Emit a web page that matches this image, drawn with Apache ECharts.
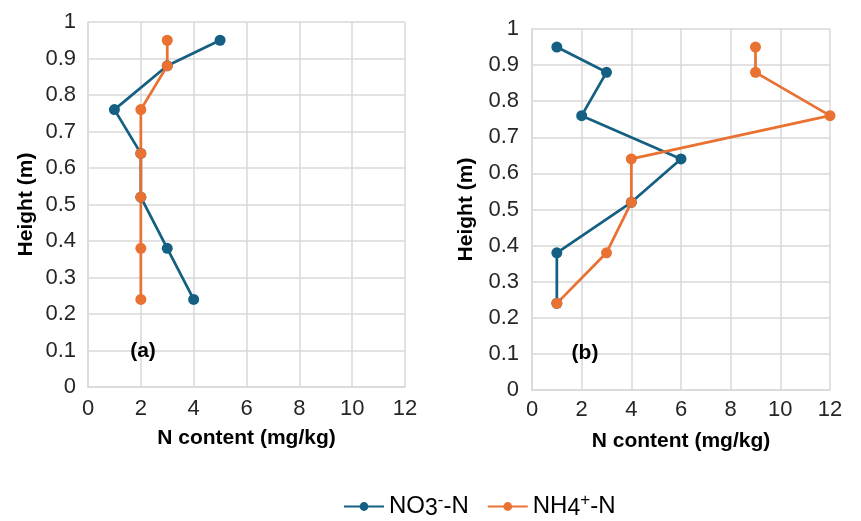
<!DOCTYPE html>
<html>
<head>
<meta charset="utf-8">
<script src="https://cdn.jsdelivr.net/npm/echarts@6/dist/echarts.min.js"></script>
<style>
  html, body { margin: 0; padding: 0; background: #ffffff; }
  #chart { width: 861px; height: 521px; }
</style>
</head>
<body>
<div id="chart"></div>
<script>
// Sampling heights (m)
const heights = [0.95, 0.88, 0.76, 0.64, 0.52, 0.38, 0.24];

// Panel (a): N content (mg/kg)
const no3A = [5, 3, 1, 2, 2, 3, 4];
const nh4A = [3, 3, 2, 2, 2, 2, 2];

// Panel (b): N content (mg/kg)
const no3B = [1, 3, 2, 6, 4, 1, 1];
const nh4B = [9, 9, 12, 4, 4, 3, 1];

const panelLabels = ['(a)', '(b)'];
const seriesNames = ['NO3-N', 'NH4-N'];

const BLUE = '#156082';
const ORANGE = '#E97132';
const GRID = '#d9d9d9';
const TICK = '#262626';
const FONT = '"Liberation Sans", Arial, sans-serif';

const pairs = (xs) => xs.map((v, i) => [v, heights[i]]);

const chart = echarts.init(document.getElementById('chart'), null, { renderer: 'canvas' });

function xAxisFor(idx, margin) {
  return {
    gridIndex: idx, type: 'value', min: 0, max: 12, interval: 2,
    name: 'N content (mg/kg)', nameLocation: 'middle', nameGap: 41,
    nameTextStyle: { fontFamily: FONT, fontSize: 21, fontWeight: 'bold', color: '#000' },
    axisLine: { show: true, lineStyle: { color: GRID, width: 1.5 } },
    axisTick: { show: false },
    axisLabel: { fontFamily: FONT, fontSize: 22, color: TICK, margin: margin },
    splitLine: { show: true, lineStyle: { color: GRID, width: 1.5 } }
  };
}
function yAxisFor(idx, margin, gap) {
  return {
    gridIndex: idx, type: 'value', min: 0, max: 1, interval: 0.1,
    name: 'Height (m)', nameLocation: 'middle', nameGap: gap,
    nameTextStyle: { fontFamily: FONT, fontSize: 21, fontWeight: 'bold', color: '#000' },
    axisLine: { show: true, lineStyle: { color: GRID, width: 1.5 } },
    axisTick: { show: false },
    axisLabel: {
      fontFamily: FONT, fontSize: 22, color: TICK, margin: margin,
      formatter: (v) => (Math.round(v * 10) / 10).toString()
    },
    splitLine: { show: true, lineStyle: { color: GRID, width: 1.5 } }
  };
}
function lineSeries(name, color, xi, data) {
  return {
    name: name, type: 'line', xAxisIndex: xi, yAxisIndex: xi,
    data: data, symbol: 'circle', symbolSize: 11, showSymbol: true,
    lineStyle: { color: color, width: 2.75 },
    itemStyle: { color: color },
    emphasis: { disabled: true }, animation: false
  };
}

const richLegend = {
  n: { fontFamily: FONT, fontSize: 24, color: '#000', lineHeight: 30 },
  sub: { fontFamily: FONT, fontSize: 23, color: '#000', lineHeight: 30, padding: [5, 0, 0, 0] },
  sup: { fontFamily: FONT, fontSize: 17, color: '#000', lineHeight: 30, padding: [0, 0, 12, 0] }
};

chart.setOption({
  backgroundColor: '#ffffff',
  animation: false,
  grid: [
    { left: 88, top: 22, width: 317, height: 365 },
    { left: 532, top: 29, width: 298, height: 361 }
  ],
  xAxis: [xAxisFor(0, 11), xAxisFor(1, 9)],
  yAxis: [yAxisFor(0, 12, 51), yAxisFor(1, 13, 55)],
  legend: {
    bottom: -5, left: 338, itemWidth: 40, itemHeight: 11, itemGap: 18,
    data: seriesNames,
    formatter: (name) => name === 'NO3-N'
      ? '{n|NO}{sub|3}{sup|-}{n|-N}'
      : '{n|NH}{sub|4}{sup|+}{n|-N}',
    textStyle: { rich: richLegend }
  },
  graphic: [
    { type: 'text', x: 143, y: 351, z: 50,
      style: { text: panelLabels[0], font: 'bold 21px ' + FONT, fill: '#000', align: 'center', verticalAlign: 'middle' } },
    { type: 'text', x: 585, y: 353, z: 50,
      style: { text: panelLabels[1], font: 'bold 21px ' + FONT, fill: '#000', align: 'center', verticalAlign: 'middle' } }
  ],
  series: [
    lineSeries(seriesNames[0], BLUE, 0, pairs(no3A)),
    lineSeries(seriesNames[1], ORANGE, 0, pairs(nh4A)),
    lineSeries(seriesNames[0], BLUE, 1, pairs(no3B)),
    lineSeries(seriesNames[1], ORANGE, 1, pairs(nh4B))
  ]
});
</script>
</body>
</html>
